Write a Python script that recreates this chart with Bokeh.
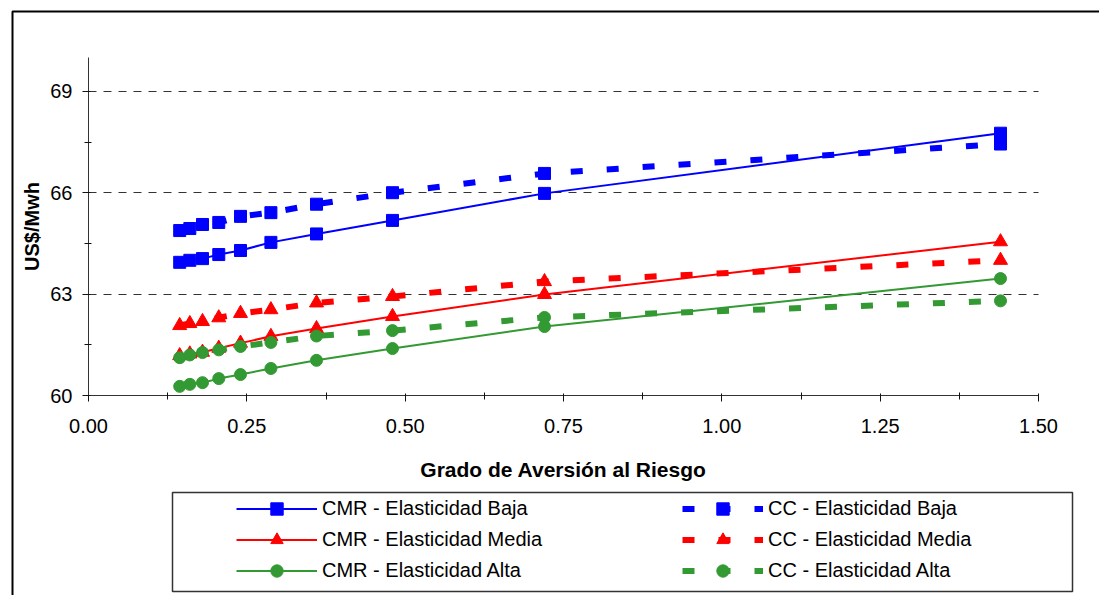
import math
from bokeh.plotting import figure
from bokeh.models import (FixedTicker, Legend, LegendItem, BoxAnnotation, Label,
                          NumeralTickFormatter, Range1d, LinearAxis, Grid)
from bokeh.embed import file_html
from bokeh.resources import INLINE

# ---- data ----
aversion = [0.144, 0.16, 0.18, 0.2057, 0.24, 0.288, 0.36, 0.48, 0.72, 1.44]
cmr_baja = [63.94, 64.00, 64.05, 64.17, 64.29, 64.53, 64.78, 65.18, 65.98, 67.76]
cc_baja = [64.88, 64.94, 65.06, 65.12, 65.30, 65.41, 65.66, 66.00, 66.57, 67.44]
cmr_media = [61.18, 61.23, 61.28, 61.40, 61.55, 61.75, 61.98, 62.34, 62.99, 64.55]
cc_media = [62.07, 62.13, 62.19, 62.30, 62.43, 62.54, 62.74, 62.93, 63.37, 64.00]
cmr_alta = [60.27, 60.33, 60.38, 60.50, 60.62, 60.80, 61.04, 61.39, 62.04, 63.46]
cc_alta = [61.12, 61.20, 61.27, 61.35, 61.45, 61.57, 61.76, 61.92, 62.31, 62.80]

labels = ["CMR - Elasticidad Baja", "CMR - Elasticidad Media", "CMR - Elasticidad Alta",
          "CC - Elasticidad Baja", "CC - Elasticidad Media", "CC - Elasticidad Alta"]
x_ticks = [0.0, 0.25, 0.5, 0.75, 1.0, 1.25, 1.5]
x_minor = [0.125, 0.375, 0.625, 0.875, 1.125, 1.375]
y_ticks = [60, 63, 66, 69]
y_minor = [61.5, 64.5, 67.5]
grid_ticks = [63, 66, 69]
x_title = "Grado de Aversión al Riesgo"
y_title = "US$/Mwh"

BLUE, RED, GREEN = "#0000FF", "#FF0000", "#339933"
FONT = "Liberation Sans"

# ---- layout: the frame covers the whole canvas; data box 0..1.5 x 60..70 ----
W, H = 1099, 595
X_LO, X_HI, Y_LO, Y_HI = 0.0, 1.5, 60.0, 70.0
PX_L, PX_R, PY_T, PY_B = 88, 1038, 57, 395
kx = (PX_R - PX_L) / (X_HI - X_LO)
ky = (PY_B - PY_T) / (Y_HI - Y_LO)


def px_x(px):
    return X_LO + (px - PX_L) / kx


def px_y(py):
    return Y_LO + (PY_B - py) / ky


p = figure(width=W, height=H, output_backend="svg", toolbar_location=None,
           x_axis_type=None, y_axis_type=None,
           x_range=Range1d(px_x(0), px_x(W)), y_range=Range1d(px_y(H), px_y(0)),
           min_border=0)
p.outline_line_color = None
p.background_fill_color = "white"
p.border_fill_color = "white"

# dashed horizontal gridlines restricted to the data box
if "cross_bounds" in Grid.properties():
    grid = Grid(dimension=1, ticker=FixedTicker(ticks=grid_ticks),
                cross_bounds=(X_LO, X_HI),
                grid_line_color="#333333", grid_line_dash="8 7", grid_line_width=1)
    p.add_layout(grid)
else:
    p.segment(x0=[X_LO] * len(grid_ticks), x1=[X_HI] * len(grid_ticks),
              y0=grid_ticks, y1=grid_ticks, line_color="#333333",
              line_dash="8 7", line_width=1)

xaxis = LinearAxis(fixed_location=Y_LO, bounds=(X_LO, X_HI),
                   ticker=FixedTicker(ticks=x_ticks, minor_ticks=x_minor),
                   formatter=NumeralTickFormatter(format="0.00"))
yaxis = LinearAxis(fixed_location=X_LO, bounds=(Y_LO, Y_HI),
                   ticker=FixedTicker(ticks=y_ticks, minor_ticks=y_minor),
                   formatter=NumeralTickFormatter(format="0"))
for ax in (xaxis, yaxis):
    ax.axis_line_color = "#333333"
    ax.major_tick_line_color = "#111111"
    ax.minor_tick_line_color = "#111111"
    ax.major_tick_in = 2
    ax.major_tick_out = 6
    ax.minor_tick_in = 3
    ax.minor_tick_out = 4
    ax.major_label_text_font = FONT
    ax.major_label_text_font_size = "20px"
    ax.major_label_text_color = "black"
xaxis.major_label_standoff = 17
yaxis.major_label_standoff = 10
p.add_layout(xaxis, "below")
p.add_layout(yaxis, "left")

series = [
    (cmr_baja, BLUE, "square", 12, None),
    (cmr_media, RED, "triangle", 14, None),
    (cmr_alta, GREEN, "circle", 12, None),
    (cc_baja, BLUE, "square", 12, "12 24"),
    (cc_media, RED, "triangle", 14, "12 24"),
    (cc_alta, GREEN, "circle", 12, "12 24"),
]
items = []
for (ys, color, marker, size, dash), lab in zip(series, labels):
    if dash is None:
        lr = p.line(aversion, ys, line_color=color, line_width=2)
    else:
        lr = p.line(aversion, ys, line_color=color, line_width=6, line_dash=dash)
    sr = p.scatter(aversion, ys, marker=marker, size=size, fill_color=color,
                   line_color=color)
    items.append(LegendItem(label=lab, renderers=[lr, sr]))

# axis titles
p.add_layout(Label(x=(X_LO + X_HI) / 2, y=px_y(469), text=x_title,
                   text_align="center", text_baseline="middle",
                   text_font=FONT, text_font_size="21px", text_font_style="bold",
                   text_color="black"))
p.add_layout(Label(x=px_x(31), y=(Y_LO + Y_HI) / 2, text=y_title, angle=math.pi / 2,
                   text_align="center", text_baseline="middle",
                   text_font=FONT, text_font_size="20px", text_font_style="bold",
                   text_color="black"))

legend = Legend(items=items, location=(236, 9), orientation="vertical", ncols=2,
                glyph_width=81, glyph_height=31, label_height=31, label_width=360,
                label_standoff=5, spacing=0, padding=0, margin=0,
                border_line_color=None, background_fill_alpha=0,
                label_text_font=FONT, label_text_font_size="20px",
                label_text_color="black")
p.add_layout(legend, "center")

legend_box = BoxAnnotation(left=px_x(172), right=px_x(1072), top=px_y(492),
                           bottom=px_y(591), fill_alpha=0, line_color="#333333",
                           line_alpha=1, line_width=1.5)
outer_box = BoxAnnotation(left=px_x(12), right=px_x(1300), top=px_y(11),
                          bottom=px_y(800), fill_alpha=0, line_color="#000000",
                          line_alpha=1, line_width=2)
p.add_layout(legend_box)
p.add_layout(outer_box)

open("out.html", "w").write(file_html(p, INLINE))
